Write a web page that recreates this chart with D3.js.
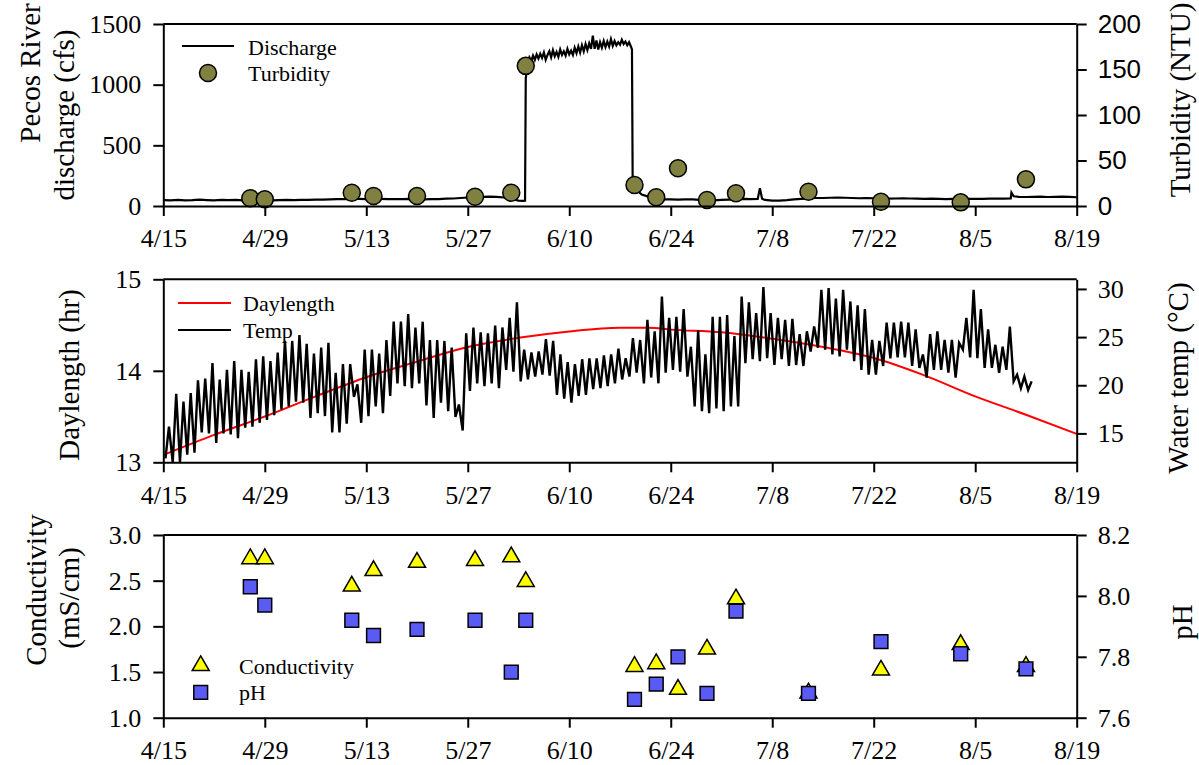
<!DOCTYPE html>
<html>
<head>
<meta charset="utf-8">
<script src="https://cdn.jsdelivr.net/npm/d3@7"></script>
<style>
  body { margin: 0; background: #fff; }
  text { font-family: "Liberation Serif", "Times New Roman", serif; fill: #000; }
</style>
</head>
<body>
<script>
// ---- data ----
var YEAR = 2019;
var xTickLabels = ["4/15", "4/29", "5/13", "5/27", "6/10", "6/24", "7/8", "7/22", "8/5", "8/19"];

// discharge, days after 4/15
var dischargeDay = [0, 1, 2, 3, 4, 5, 6, 7, 8, 9, 10, 11, 12, 13, 14, 15, 16, 17, 18, 19,
  20, 21, 22, 23, 24, 25, 26, 27, 28, 29, 30, 31, 32, 33, 34, 35, 36, 37, 38, 39,
  40, 41, 42, 43, 44, 45, 46, 47, 48, 49, 49.6, 49.9, 50.0, 50.25, 50.5, 50.75,
  51, 51.25, 51.5, 51.75, 52, 52.25, 52.5, 52.75, 53, 53.25, 53.5, 53.75,
  54, 54.25, 54.5, 54.75, 55, 55.25, 55.5, 55.75, 56, 56.25, 56.5, 56.75,
  57, 57.25, 57.5, 57.75, 58, 58.25, 58.5, 58.75, 59, 59.25, 59.5, 59.75,
  60, 60.25, 60.5, 60.75, 61, 61.25, 61.5, 61.75, 62, 62.25, 62.5, 62.75,
  63, 63.25, 63.5, 63.75, 64, 64.25, 64.5, 64.65, 64.75, 65, 65.5, 66, 67, 68,
  69, 70, 71, 72, 73, 74, 75, 76, 77, 78, 79, 80, 81, 82, 82.3, 82.6, 83, 84, 85,
  86, 87, 88, 89, 90, 91, 92, 93, 94, 95, 96, 97, 98, 99, 100, 101, 102, 103, 104,
  105, 106, 107, 108, 109, 110, 111, 112, 113, 114, 115, 116, 116.9, 117, 117.3,
  118, 119, 120, 121, 122, 123, 124, 125, 126];
var dischargeCfs = [48, 47, 50, 46, 48, 52, 49, 47, 50, 48, 51, 47, 48, 46, 44, 46, 48, 50, 49, 51,
  50, 52, 53, 55, 56, 57, 58, 58, 57, 58, 58, 57, 56, 57, 58, 56, 55, 56, 57, 60,
  62, 66, 70, 74, 76, 77, 75, 70, 60, 45, 42, 44, 1050, 1180, 1225, 1195,
  1240, 1205, 1250, 1215, 1255, 1220, 1265, 1205, 1245, 1275, 1225, 1285,
  1235, 1270, 1230, 1290, 1245, 1275, 1240, 1295, 1250, 1280, 1245, 1305,
  1260, 1315, 1265, 1325, 1275, 1335, 1285, 1340, 1295, 1405, 1295, 1365,
  1290, 1350, 1305, 1360, 1310, 1355, 1315, 1375, 1320, 1360, 1325, 1350,
  1330, 1370, 1335, 1355, 1325, 1350, 1315, 1290, 180, 150, 120, 95, 75, 60,
  55, 55, 52, 55, 54, 50, 48, 47, 50, 52, 55, 58, 56, 58, 146, 60, 50, 44, 45,
  48, 55, 58, 62, 66, 66, 68, 70, 68, 66, 64, 66, 64, 62, 60, 62, 64, 62, 60,
  58, 60, 58, 57, 58, 58, 58, 58, 59, 60, 60, 60, 62, 110, 80,
  76, 74, 76, 78, 74, 76, 78, 75, 72];

// grab samples: same dates for turbidity, conductivity and pH
var sampleDates = ["4/27", "4/29", "5/11", "5/14", "5/20", "5/28", "6/2", "6/4", "6/19",
  "6/22", "6/25", "6/29", "7/3", "7/13", "7/23", "8/3", "8/12"];
var turbidityNtu = [8.5, 7.4, 14.6, 11, 11, 10.2, 14.6, 154, 23, 9.6, 41.4, 6.6, 14, 15.7, 4.7, 4, 29.3];
var conductivity = [2.74, 2.74, 2.44, 2.61, 2.70, 2.72, 2.76, 2.49, 1.56, 1.59, 1.31, 1.75, 2.30, 1.27, 1.52, 1.80, 1.56];
var ph = [8.03, 7.97, 7.92, 7.87, 7.89, 7.92, 7.75, 7.92, 7.66, 7.71, 7.80, 7.68, 7.95, 7.68, 7.85, 7.81, 7.76];

// daylength, days after 4/15
var daylengthDay = [0, 7, 14, 21, 28, 35, 42, 49, 56, 63, 67, 70, 77, 84, 91, 98, 105, 112, 119, 126];
var daylengthHr = [13.08, 13.30, 13.50, 13.72, 13.93, 14.10, 14.26, 14.36, 14.43, 14.47, 14.47, 14.45,
  14.42, 14.35, 14.26, 14.14, 13.95, 13.72, 13.52, 13.31];

// water temperature, daily min and max from 4/15 (day 0) to 8/12 (day 119)
var tempMin = [12.4, 12.0, 12.0, 12.8, 13.0, 15.1, 15.0, 14.0, 15.0, 14.9,
  14.5, 15.6, 15.7, 16.1, 16.4, 16.9, 17.5, 17.8, 18.3, 18.2,
  16.6, 17.1, 16.8, 15.1, 15.1, 16.0, 18.8, 16.1, 16.8, 17.8,
  17.1, 18.9, 20.2, 19.9, 19.7, 20.2, 17.9, 16.6, 18.2, 17.3,
  16.7, 15.3, 19.4, 20.2, 19.9, 20.2, 19.7, 21.6, 21.4, 20.4,
  20.6, 20.9, 21.1, 21.0, 19.0, 18.6, 18.2, 18.9, 19.0, 19.6,
  19.7, 19.9, 20.2, 20.6, 20.9, 21.3, 20.2, 20.8, 20.2, 21.3,
  21.6, 21.4, 20.9, 17.8, 17.3, 17.1, 17.6, 17.3, 17.8, 17.8,
  22.3, 22.7, 22.5, 22.8, 22.1, 22.7, 22.0, 22.1, 22.0, 23.5,
  23.9, 23.7, 23.2, 23.0, 23.7, 22.5, 21.6, 21.1, 21.1, 22.0,
  22.8, 22.9, 22.9, 22.0, 21.8, 20.8, 21.6, 21.6, 21.3, 20.8,
  23.7, 22.9, 22.8, 21.8, 21.8, 21.3, 21.6, 20.4, 19.7, 19.5];
var tempMax = [15.7, 19.1, 18.3, 19.2, 20.5, 20.7, 22.3, 20.6, 21.6, 22.5,
  21.6, 21.4, 22.7, 23.0, 22.5, 23.4, 24.6, 24.6, 25.2, 24.3,
  23.3, 23.9, 24.4, 21.3, 22.2, 22.2, 20.1, 23.7, 23.7, 23.3,
  24.7, 26.6, 26.6, 27.4, 26.0, 26.6, 24.7, 24.7, 24.6, 23.9,
  18.0, 25.4, 26.0, 25.5, 25.4, 26.2, 26.0, 27.0, 28.6, 23.7,
  23.4, 23.5, 24.8, 24.6, 23.2, 22.4, 22.2, 22.7, 22.8, 22.8,
  23.1, 23.2, 23.8, 22.8, 24.9, 24.7, 26.8, 25.6, 29.2, 27.0,
  27.1, 27.9, 24.0, 25.7, 23.2, 27.1, 27.1, 27.3, 25.1, 29.2,
  28.6, 27.5, 30.2, 27.5, 27.0, 26.8, 26.9, 25.3, 25.6, 26.1,
  29.9, 30.1, 29.0, 29.9, 28.7, 28.3, 27.9, 24.7, 24.6, 26.5,
  26.5, 26.6, 26.5, 25.8, 23.2, 25.3, 25.6, 24.7, 24.7, 24.4,
  27.0, 29.9, 27.9, 25.8, 24.2, 24.0, 26.1, 21.1, 20.9, 20.4];

// ---- helpers ----
var parseDate = d3.timeParse("%m/%d/%Y");
function toDate(s) { return parseDate(s + "/" + YEAR); }
var startDate = toDate(xTickLabels[0]);
function dayToDate(d) { return new Date(startDate.getTime() + d * 864e5); }

var W = 1199, H = 765;
var left = 163.3, right = 1076.7;
var panels = [
  { top: 24, bottom: 206 },
  { top: 279.3, bottom: 462.3 },
  { top: 535, bottom: 717.7 }
];
var serif = "'Liberation Serif', 'Times New Roman', serif";

var svg = d3.select("body").append("svg")
  .attr("width", W)
  .attr("height", H);

var x = d3.scaleTime()
  .domain([toDate(xTickLabels[0]), toDate(xTickLabels[xTickLabels.length - 1])])
  .range([left, right]);
var xTicks = xTickLabels.map(toDate);

function styleAxis(g, font) {
  g.attr("font-size", 26).attr("font-family", font || serif);
  g.selectAll(".domain").attr("stroke-width", 2);
  g.selectAll(".tick line").attr("stroke-width", 2);
  g.selectAll("text").style("font-family", font || serif);
}

function frame(p, yL, yR, lTicks, rTicks, lFmt, rFmt, rFont) {
  svg.append("g")
    .attr("transform", "translate(0," + p.bottom + ")")
    .call(d3.axisBottom(x).tickValues(xTicks)
      .tickFormat(function (d, i) { return xTickLabels[i]; })
      .tickSize(10).tickSizeOuter(0).tickPadding(13))
    .call(styleAxis);
  svg.append("line")
    .attr("x1", left).attr("x2", right)
    .attr("y1", p.top).attr("y2", p.top)
    .attr("stroke", "#000").attr("stroke-width", 2);
  svg.append("g")
    .attr("transform", "translate(" + left + ",0)")
    .call(d3.axisLeft(yL).tickValues(lTicks).tickFormat(lFmt)
      .tickSize(10).tickSizeOuter(0).tickPadding(12))
    .call(styleAxis);
  svg.append("g")
    .attr("transform", "translate(" + right + ",0)")
    .call(d3.axisRight(yR).tickValues(rTicks).tickFormat(rFmt)
      .tickSize(10).tickSizeOuter(0).tickPadding(11))
    .call(function (g) { styleAxis(g, rFont); });
}

function vTitle(txt, xPos, yPos) {
  svg.append("text")
    .attr("transform", "translate(" + xPos + "," + yPos + ") rotate(-90)")
    .attr("text-anchor", "middle")
    .attr("font-size", 29)
    .text(txt);
}

function legendText(txt, xPos, yPos) {
  svg.append("text")
    .attr("x", xPos).attr("y", yPos)
    .attr("font-size", 22)
    .text(txt);
}

var tri = d3.symbol().type(d3.symbolTriangle).size(125);
var sq = d3.symbol().type(d3.symbolSquare).size(190);

// ---- panel 1: discharge + turbidity ----
var p1 = panels[0];
var yQ = d3.scaleLinear().domain([0, 1500]).range([p1.bottom, p1.top]);
var yTurb = d3.scaleLinear().domain([0, 200]).range([p1.bottom, p1.top]);

svg.append("path")
  .datum(dischargeDay.map(function (d, i) { return [dayToDate(d), dischargeCfs[i]]; }))
  .attr("fill", "none")
  .attr("stroke", "#000")
  .attr("stroke-width", 2.2)
  .attr("d", d3.line().x(function (d) { return x(d[0]); }).y(function (d) { return yQ(d[1]); }));

svg.selectAll(".turb")
  .data(sampleDates)
  .enter().append("circle")
  .attr("cx", function (d) { return x(toDate(d)); })
  .attr("cy", function (d, i) { return yTurb(turbidityNtu[i]); })
  .attr("r", 8.5)
  .attr("fill", "#808040")
  .attr("stroke", "#000")
  .attr("stroke-width", 1.5);

frame(p1, yQ, yTurb, [0, 500, 1000, 1500], [0, 50, 100, 150, 200],
  d3.format("d"), d3.format("d"), "'Liberation Sans', Arial, sans-serif");

svg.append("line").attr("x1", 182).attr("x2", 234).attr("y1", 46).attr("y2", 46)
  .attr("stroke", "#000").attr("stroke-width", 2);
legendText("Discharge", 248, 55);
svg.append("circle").attr("cx", 208).attr("cy", 73).attr("r", 8.5)
  .attr("fill", "#808040").attr("stroke", "#000").attr("stroke-width", 1.5);
legendText("Turbidity", 248, 81);

vTitle("Pecos River", 40, 73);
vTitle("discharge (cfs)", 74, 115);
vTitle("Turbidity (NTU)", 1190, 100);

// ---- panel 2: daylength + water temp ----
var p2 = panels[1];
var yDay = d3.scaleLinear().domain([13, 15]).range([p2.bottom, p2.top]);
var yTemp = d3.scaleLinear().domain([12, 31]).range([p2.bottom, p2.top]);

var tempPts = [];
tempMin.forEach(function (v, i) {
  tempPts.push([dayToDate(i + 0.3), v]);
  tempPts.push([dayToDate(i + 0.78), tempMax[i]]);
});

svg.append("path")
  .datum(daylengthDay.map(function (d, i) { return [dayToDate(d), daylengthHr[i]]; }))
  .attr("fill", "none")
  .attr("stroke", "#ff0000")
  .attr("stroke-width", 2)
  .attr("d", d3.line().curve(d3.curveMonotoneX)
    .x(function (d) { return x(d[0]); }).y(function (d) { return yDay(d[1]); }));

svg.append("path")
  .datum(tempPts)
  .attr("fill", "none")
  .attr("stroke", "#000")
  .attr("stroke-width", 2.4)
  .attr("d", d3.line().x(function (d) { return x(d[0]); }).y(function (d) { return yTemp(d[1]); }));

frame(p2, yDay, yTemp, [13, 14, 15], [15, 20, 25, 30], d3.format("d"), d3.format("d"));

svg.append("line").attr("x1", 178).attr("x2", 231).attr("y1", 303).attr("y2", 303)
  .attr("stroke", "#ff0000").attr("stroke-width", 2);
legendText("Daylength", 243, 311);
svg.append("line").attr("x1", 178).attr("x2", 231).attr("y1", 330).attr("y2", 330)
  .attr("stroke", "#000").attr("stroke-width", 2);
legendText("Temp", 243, 338);

vTitle("Daylength (hr)", 79, 375);
vTitle("Water temp (\u00B0C)", 1188, 378);

// ---- panel 3: conductivity + pH ----
var p3 = panels[2];
var yCond = d3.scaleLinear().domain([1, 3]).range([p3.bottom, p3.top]);
var yPh = d3.scaleLinear().domain([7.6, 8.2]).range([p3.bottom, p3.top]);

svg.selectAll(".cond")
  .data(sampleDates)
  .enter().append("path")
  .attr("transform", function (d, i) { return "translate(" + x(toDate(d)) + "," + yCond(conductivity[i]) + ")"; })
  .attr("d", tri)
  .attr("fill", "#ffff00")
  .attr("stroke", "#000")
  .attr("stroke-width", 1.5);

svg.selectAll(".ph")
  .data(sampleDates)
  .enter().append("path")
  .attr("transform", function (d, i) { return "translate(" + x(toDate(d)) + "," + yPh(ph[i]) + ")"; })
  .attr("d", sq)
  .attr("fill", "#5a5af5")
  .attr("stroke", "#000")
  .attr("stroke-width", 1.5);

frame(p3, yCond, yPh, [1, 1.5, 2, 2.5, 3], [7.6, 7.8, 8.0, 8.2], d3.format(".1f"), d3.format(".1f"));

svg.append("path").attr("transform", "translate(200.7,665.7)").attr("d", tri)
  .attr("fill", "#ffff00").attr("stroke", "#000").attr("stroke-width", 1.5);
legendText("Conductivity", 239, 674);
svg.append("path").attr("transform", "translate(200.7,692.3)").attr("d", sq)
  .attr("fill", "#5a5af5").attr("stroke", "#000").attr("stroke-width", 1.5);
legendText("pH", 239, 700);

vTitle("Conductivity", 46, 590);
vTitle("(mS/cm)", 79, 598);
vTitle("pH", 1192, 622);
</script>
</body>
</html>
